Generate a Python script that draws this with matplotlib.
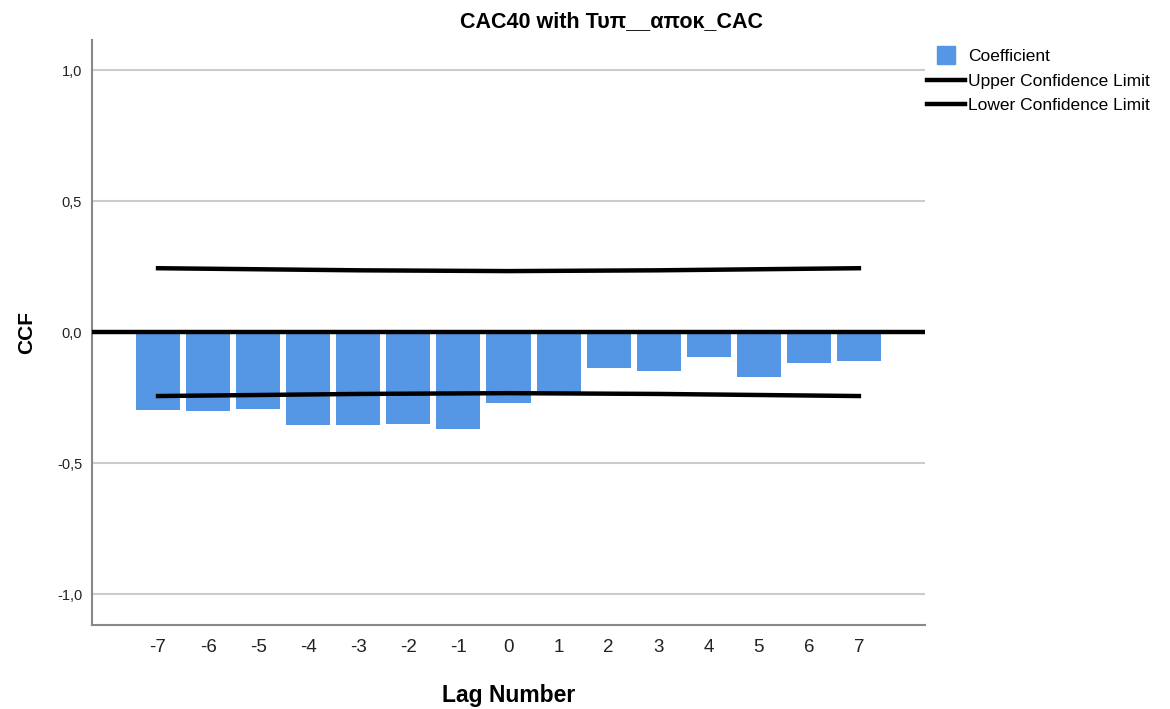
import matplotlib.pyplot as plt
import matplotlib.ticker as mticker
from matplotlib.lines import Line2D

plt.rcParams['font.family'] = ['Liberation Sans', 'DejaVu Sans']

# CCF values
lags = [-7, -6, -5, -4, -3, -2, -1, 0, 1, 2, 3, 4, 5, 6, 7]
coef = [-0.298, -0.302, -0.294, -0.355, -0.355, -0.351, -0.370, -0.271,
        -0.229, -0.137, -0.149, -0.095, -0.172, -0.118, -0.111]
upper = [0.244, 0.242, 0.240, 0.238, 0.236, 0.235, 0.234, 0.233,
         0.234, 0.235, 0.236, 0.238, 0.240, 0.242, 0.244]
lower = [-u for u in upper]
y_ticks = [-1.0, -0.5, 0.0, 0.5, 1.0]

bar_color = '#5596e5'

fig = plt.figure(figsize=(11.7, 7.09), dpi=100)
ax = fig.add_axes([0.0786, 0.1185, 0.712, 0.825])

ax.bar(lags, coef, width=0.88, color=bar_color, zorder=2)
ax.axhline(0, color='black', linewidth=3.2, zorder=4)
ax.plot(lags, upper, color='black', linewidth=3.2, zorder=5)
ax.plot(lags, lower, color='black', linewidth=3.2, zorder=5)

ax.set_xlim(-8.32, 8.32)
ax.set_ylim(-1.118, 1.115)
ax.set_xticks(lags)
ax.set_xticklabels([str(l) for l in lags], fontsize=13.5, color='#222222')
ax.set_yticks(y_ticks)
ax.yaxis.set_major_formatter(mticker.FuncFormatter(lambda v, p: f'{v:.1f}'.replace('.', ',')))
ax.tick_params(axis='y', labelsize=10.5, length=0, pad=7, labelcolor='#222222')
ax.tick_params(axis='x', length=0, pad=10)
ax.grid(axis='y', color='#cccccc', linewidth=1.5, zorder=0)
ax.set_axisbelow(True)

for s in ['top', 'right']:
    ax.spines[s].set_visible(False)
for s in ['left', 'bottom']:
    ax.spines[s].set_color('#888888')
    ax.spines[s].set_linewidth(1.5)

fig.text(0.523, 0.969, 'CAC40 with Τυπ__αποκ_CAC', fontsize=15.5,
         fontweight='bold', ha='center', va='center')
ax.set_xlabel('Lag Number', fontsize=16.5, fontweight='bold', labelpad=20)
ax.set_ylabel('CCF', fontsize=15, fontweight='bold', labelpad=15)

handles = [Line2D([], [], marker='s', markersize=13, linestyle='none', color=bar_color),
           Line2D([], [], color='black', linewidth=3.2),
           Line2D([], [], color='black', linewidth=3.2)]
labels = ['Coefficient', 'Upper Confidence Limit', 'Lower Confidence Limit']
fig.legend(handles, labels, loc='upper left', bbox_to_anchor=(0.792, 0.931),
           frameon=False, fontsize=12.5, handlelength=2.2, handletextpad=0.2,
           labelspacing=0.55, borderaxespad=0, borderpad=0)

fig.savefig('out.png', dpi=100)
